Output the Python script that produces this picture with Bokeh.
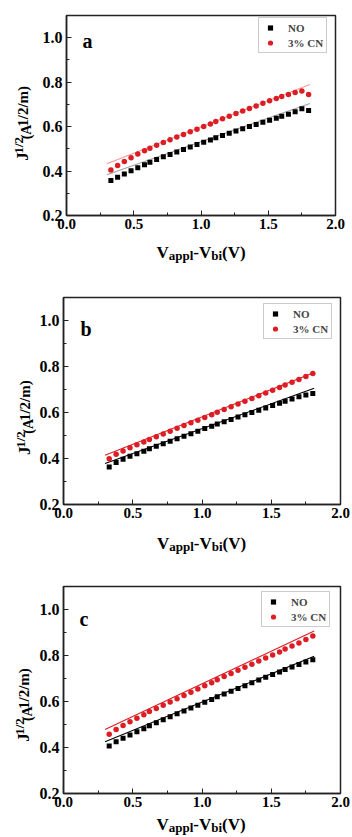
import math
from bokeh.plotting import figure
from bokeh.models import (Label, Legend, LegendItem, SingleIntervalTicker,
                          PrintfTickFormatter, Range1d)
from bokeh.layouts import column, row
from bokeh.embed import file_html
from bokeh.resources import INLINE

# ---------------- data ----------------
V_BIAS = [0.33, 0.38, 0.43, 0.48, 0.53, 0.58, 0.62, 0.67, 0.72, 0.77, 0.82,
          0.87, 0.92, 0.97, 1.02, 1.07, 1.11, 1.16, 1.21, 1.26, 1.31, 1.36,
          1.41, 1.46, 1.51, 1.56, 1.60, 1.65, 1.70, 1.75, 1.80]

A_NO = [0.357, 0.372, 0.387, 0.401, 0.415, 0.428, 0.440, 0.452, 0.464, 0.475,
        0.486, 0.497, 0.508, 0.519, 0.530, 0.540, 0.550, 0.560, 0.570, 0.580,
        0.590, 0.600, 0.610, 0.620, 0.629, 0.638, 0.647, 0.656, 0.667, 0.680,
        0.672]
A_CN = [0.405, 0.425, 0.443, 0.460, 0.477, 0.491, 0.503, 0.516, 0.529, 0.541,
        0.553, 0.565, 0.577, 0.588, 0.600, 0.612, 0.623, 0.635, 0.647, 0.659,
        0.670, 0.682, 0.693, 0.705, 0.716, 0.726, 0.735, 0.745, 0.754, 0.760,
        0.745]

B_NO = [0.363, 0.383, 0.397, 0.410, 0.421, 0.432, 0.442, 0.453, 0.464, 0.475,
        0.486, 0.497, 0.508, 0.519, 0.530, 0.540, 0.550, 0.560, 0.570, 0.580,
        0.590, 0.600, 0.610, 0.620, 0.630, 0.640, 0.649, 0.659, 0.668, 0.676,
        0.683]
B_CN = [0.399, 0.418, 0.433, 0.447, 0.460, 0.472, 0.483, 0.495, 0.507, 0.519,
        0.531, 0.543, 0.555, 0.566, 0.578, 0.590, 0.601, 0.613, 0.625, 0.637,
        0.649, 0.661, 0.673, 0.685, 0.697, 0.709, 0.720, 0.732, 0.744, 0.757,
        0.770]

C_NO = [0.407, 0.425, 0.440, 0.454, 0.468, 0.482, 0.495, 0.508, 0.521, 0.534,
        0.547, 0.559, 0.572, 0.584, 0.597, 0.609, 0.621, 0.633, 0.645, 0.657,
        0.669, 0.681, 0.693, 0.705, 0.717, 0.728, 0.739, 0.750, 0.761, 0.772,
        0.782]
C_CN = [0.458, 0.478, 0.496, 0.512, 0.527, 0.542, 0.556, 0.570, 0.584, 0.598,
        0.612, 0.626, 0.640, 0.654, 0.668, 0.682, 0.695, 0.709, 0.722, 0.736,
        0.749, 0.762, 0.776, 0.789, 0.802, 0.815, 0.828, 0.841, 0.854, 0.870,
        0.885]

FIT_X = [0.30, 1.81]
A_FIT_NO = [0.383, 0.704]
A_FIT_CN = [0.433, 0.790]
B_FIT_NO = [0.378, 0.705]
B_FIT_CN = [0.414, 0.774]
C_FIT_NO = [0.425, 0.797]
C_FIT_CN = [0.478, 0.907]

SERIES_NAMES = ["NO", "3% CN"]
PANEL_TAGS = ["a", "b", "c"]
X_LIMITS = (0.0, 2.0)
Y_LIMITS = (0.2, 1.1)
X_TICK_STEP = 0.5
Y_TICK_STEP = 0.2
X_TITLE = [("V", 0), ("appl", 1), ("-V", 0), ("bi", 1), ("(V)", 0)]   # 1 = subscript
Y_TITLE = [("J", 0), ("1/2", 1), ("(A", 2), ("1/2/m)", 3)]

# ---------------- styling helpers ----------------
FONT = "Liberation Serif"
RED = "#dc1e24"
W = 352
YLAB_W = 36
XAX_H = 19
# Times / Liberation Serif Bold advance widths (em)
CW = {'V': 0.722, 'a': 0.5, 'p': 0.556, 'l': 0.278, '-': 0.333, 'b': 0.556,
      'i': 0.278, '(': 0.333, ')': 0.333, 'J': 0.5, '1': 0.5, '/': 0.278,
      '2': 0.5, 'A': 0.722, 'm': 0.833}


def tw(s, size):
    return sum(CW.get(c, 0.5) for c in s) * size


def label(text, x, y, size, angle=0.0, dx=0, dy=0):
    return Label(x=x, y=y, x_units="data", y_units="data", x_offset=dx,
                 y_offset=dy, text=text, text_font=FONT,
                 text_font_style="bold", text_font_size=f"{size}px",
                 text_color="black", text_align="left",
                 text_baseline="alphabetic", angle=angle)


def blank_fig(w, h):
    f = figure(width=w, height=h, x_range=Range1d(0, w), y_range=Range1d(0, h),
               output_backend="svg", toolbar_location=None, min_border=0,
               x_axis_location=None, y_axis_location=None, title=None)
    f.xgrid.visible = False
    f.ygrid.visible = False
    f.outline_line_color = None
    f.border_fill_color = "white"
    f.background_fill_color = "white"
    return f


def make_panel(tag, no, cn, fit_no, fit_cn, faint, total_h, frame_top,
               frame_left, frame_right_gap, frame_bottom, xlab_base,
               ylab_base, ylab_start, letter, legend_loc):
    main_h = frame_bottom + XAX_H
    p = figure(width=W - YLAB_W, height=main_h, x_range=Range1d(*X_LIMITS),
               y_range=Range1d(*Y_LIMITS), output_backend="svg",
               toolbar_location=None, min_border_top=frame_top,
               min_border_right=frame_right_gap, min_border_bottom=XAX_H,
               min_border_left=frame_left - YLAB_W)
    p.xgrid.visible = False
    p.ygrid.visible = False
    p.outline_line_color = "#222222"
    p.outline_line_width = 1.5
    p.outline_line_alpha = 1.0
    p.background_fill_color = "white"
    p.border_fill_color = "white"

    p.xaxis.ticker = SingleIntervalTicker(interval=X_TICK_STEP, num_minor_ticks=2)
    p.yaxis.ticker = SingleIntervalTicker(interval=Y_TICK_STEP, num_minor_ticks=2)
    for ax in (p.xaxis[0], p.yaxis[0]):
        ax.formatter = PrintfTickFormatter(format="%.1f")
        ax.major_tick_in = 5
        ax.major_tick_out = 0
        ax.minor_tick_in = 3
        ax.minor_tick_out = 0
        ax.axis_line_width = 1.5
        ax.axis_line_color = "#222222"
        ax.major_tick_line_color = "#222222"
        ax.minor_tick_line_color = "#222222"
        ax.major_label_text_font = FONT
        ax.major_label_text_font_style = "bold"
        ax.major_label_text_font_size = "16px"
        ax.major_label_text_color = "black"
    p.xaxis[0].major_label_text_font_size = "15px"
    p.xaxis[0].major_label_standoff = 3
    p.yaxis[0].major_label_standoff = 4

    if faint:
        c_no, c_cn, a = "#9a9a9a", "#f09090", 0.9
    else:
        c_no, c_cn, a = "black", RED, 1.0
    p.line(FIT_X, fit_no, line_color=c_no, line_width=1.1, line_alpha=a)
    p.line(FIT_X, fit_cn, line_color=c_cn, line_width=1.1, line_alpha=a)
    r_no = p.scatter(V_BIAS, no, marker="square", size=5, fill_color="black",
                     line_color="black", line_width=0)
    r_cn = p.scatter(V_BIAS, cn, marker="circle", size=5.5, fill_color=RED,
                     line_color=RED, line_width=0)

    leg = Legend(items=[LegendItem(label=SERIES_NAMES[0], renderers=[r_no]),
                        LegendItem(label=SERIES_NAMES[1], renderers=[r_cn])],
                 location=legend_loc, padding=3, spacing=2, margin=0,
                 glyph_width=16, glyph_height=13, label_height=13,
                 label_standoff=10, label_text_font=FONT,
                 label_text_font_style="bold", label_text_font_size="11px",
                 border_line_color="#999999", border_line_width=1,
                 background_fill_color="white", background_fill_alpha=1.0)
    p.add_layout(leg)

    # panel letter
    p.add_layout(label(tag, X_LIMITS[0], Y_LIMITS[1], 20,
                       dx=letter[0], dy=-letter[1]))

    # y-axis title (rotated, built of pieces)
    yf = blank_fig(YLAB_W, main_h)
    ysizes = [17, 13, 14, 15]
    yshift = [0, -4, 4, 0]
    cy = main_h - ylab_start
    for (s, k), sz, sh in zip(Y_TITLE, ysizes, yshift):
        yf.add_layout(label(s, ylab_base + sh, cy, sz, angle=math.pi / 2))
        cy += tw(s, sz)

    # x-axis title (built of pieces)
    xh = total_h - main_h
    xf = blank_fig(W, xh)
    xsizes = {0: 17, 1: 13}
    total = sum(tw(s, xsizes[k]) for s, k in X_TITLE)
    cx = frame_left + (W - frame_right_gap - frame_left) / 2 - total / 2
    base = xh - (xlab_base - main_h)
    for s, k in X_TITLE:
        xf.add_layout(label(s, cx, base - 3 * k, xsizes[k]))
        cx += tw(s, xsizes[k])

    return column(row(yf, p, spacing=0), xf, spacing=0)


pa = make_panel(PANEL_TAGS[0], A_NO, A_CN, A_FIT_NO, A_FIT_CN, True, 280,
                15, 66, 17, 215, 252, 22, 170, (16, 25), (192, 162))
pb = make_panel(PANEL_TAGS[1], B_NO, B_CN, B_FIT_NO, B_FIT_CN, False, 280,
                17, 62, 12, 224, 263, 24, 185, (17, 31), (200, 165))
pc = make_panel(PANEL_TAGS[2], C_NO, C_CN, C_FIT_NO, C_FIT_CN, False, 277,
                26, 61, 12, 233, 264, 23, 189, (16, 32), (198, 166))

layout = column(pa, pb, pc, spacing=0)
open("out.html", "w").write(file_html(layout, INLINE))
